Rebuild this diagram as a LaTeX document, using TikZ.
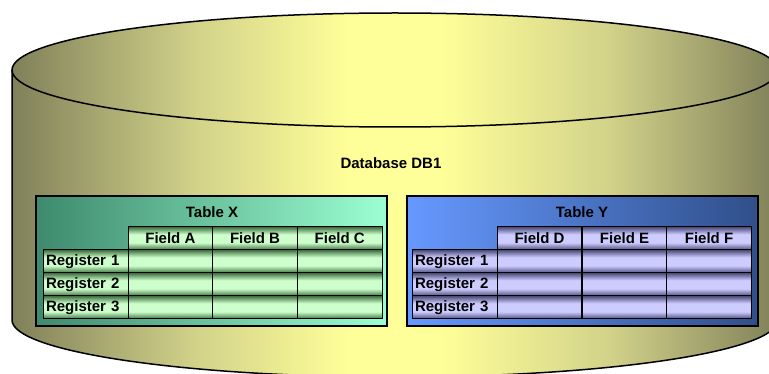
\documentclass[tikz,border=0pt]{standalone}
\usepackage{fontspec}
\setmainfont{Liberation Sans}

\definecolor{cylEdge}{HTML}{80805A}
\definecolor{cylSide}{HTML}{D2D28A}
\definecolor{cylMid}{HTML}{FFFF99}
\definecolor{tabXleft}{HTML}{3E8A6E}
\definecolor{tabXright}{HTML}{9CFFD2}
\definecolor{tabYleft}{HTML}{6699FF}
\definecolor{tabYright}{HTML}{304F8A}
\definecolor{cellXlight}{HTML}{CCFFCC}
\definecolor{cellXdark}{HTML}{3F6F3F}
\definecolor{cellYlight}{HTML}{CCCCFF}
\definecolor{cellYdark}{HTML}{4C4C7A}

\pgfdeclarehorizontalshading{cylshade}{100bp}{color(0bp)=(cylEdge); color(25bp)=(cylEdge);
  color(37bp)=(cylSide); color(47bp)=(cylMid); color(53bp)=(cylMid); color(64bp)=(cylSide);
  color(75bp)=(cylEdge); color(100bp)=(cylEdge)}
\pgfdeclareverticalshading{cellXshade}{100bp}{color(0bp)=(cellXdark); color(25bp)=(cellXdark);
  color(41bp)=(cellXlight); color(59bp)=(cellXlight); color(75bp)=(cellXdark); color(100bp)=(cellXdark)}
\pgfdeclareverticalshading{cellYshade}{100bp}{color(0bp)=(cellYdark); color(25bp)=(cellYdark);
  color(41bp)=(cellYlight); color(59bp)=(cellYlight); color(75bp)=(cellYdark); color(100bp)=(cellYdark)}

\tikzset{
  boldtext/.style={font=\bfseries\fontsize{15}{17}\selectfont},
  tabbox/.style={draw=black, line width=2pt, minimum width=351pt, minimum height=130pt, inner sep=0pt},
  cellbase/.style={boldtext, draw=black, line width=1pt, minimum width=84.7pt, minimum height=23pt, inner sep=0pt},
  cellX/.style={cellbase, shade, shading=cellXshade},
  cellY/.style={cellbase, shade, shading=cellYshade},
  reglabel/.style={text width=79pt, align=left, minimum width=85pt},
}

\begin{document}
\begin{tikzpicture}[x=1pt,y=-1pt]
  \useasboundingbox (0,0) rectangle (769,374);
  \clip (0,0) rectangle (769,374);

  % the database cylinder
  \shade[shading=cylshade] (12,70) -- (12,320) arc[start angle=180, end angle=0, x radius=383, y radius=57]
    -- (778,70) arc[start angle=0, end angle=-180, x radius=383, y radius=57] -- cycle;
  \draw[line width=1.5pt] (12,70) -- (12,320) arc[start angle=180, end angle=0, x radius=383, y radius=57] -- (778,70);
  \draw[line width=1.5pt] (395,70) ellipse[x radius=383, y radius=57];

  \node[boldtext] (dbname) at (391,163) {Database DB1};

  % table X
  \node[tabbox, left color=tabXleft, right color=tabXright] (tabX) at (211.5,261) {};
  \node[boldtext] (titleX) at (212,212) {Table X};
  \node[cellX] (fieldA) at (170.4,238.5) {Field A};
  \node[cellX] (fieldB) at (255,238.5) {Field B};
  \node[cellX] (fieldC) at (339.7,238.5) {Field C};
  \foreach \r/\ry in {1/261.5,2/284.5,3/307.5} {
    \node[cellX, reglabel] (regX\r) at (85.5,\ry) {Register \r};
    \foreach \c/\cx in {a/170.4,b/255,c/339.7}
      \node[cellX] (cellX\c\r) at (\cx,\ry) {};
  }

  % table Y
  \node[tabbox, left color=tabYleft, right color=tabYright] (tabY) at (582.5,261) {};
  \node[boldtext] (titleY) at (582,212) {Table Y};
  \node[cellY] (fieldD) at (539.5,238.5) {Field D};
  \node[cellY] (fieldE) at (624.5,238.5) {Field E};
  \node[cellY] (fieldF) at (709,238.5) {Field F};
  \foreach \r/\ry in {1/261.5,2/284.5,3/307.5} {
    \node[cellY, reglabel] (regY\r) at (454.5,\ry) {Register \r};
    \foreach \c/\cx in {d/539.5,e/624.5,f/709}
      \node[cellY] (cellY\c\r) at (\cx,\ry) {};
  }
\end{tikzpicture}
\end{document}
